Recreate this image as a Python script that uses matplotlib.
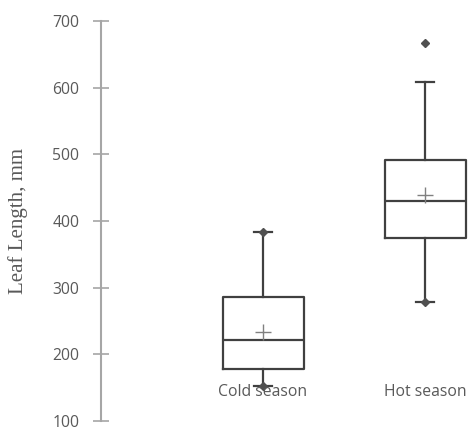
import numpy as np
import matplotlib
matplotlib.use('Agg')
import matplotlib.pyplot as plt

categories = ['Cold season', 'Hot season']
q1 = [178, 374]
medians = [221, 430]
q3 = [286, 491]
whisker_low = [153, 279]
whisker_high = [383, 608]
means = [233, 439]
outliers = [[], [667]]
# points drawn on the whisker ends (min / max data points)
end_points = [[153, 383], [279]]

y_ticks = [100, 200, 300, 400, 500, 600, 700]

box_color = '#404040'
axis_color = '#a6a6a6'
text_color = '#595959'

fig = plt.figure(figsize=(4.68, 4.28), dpi=100)
ax = fig.add_axes([101 / 468, 7 / 428, 367 / 468, 400 / 428])

positions = np.arange(1, len(categories) + 1)
stats = []
for i in range(len(categories)):
    stats.append(dict(q1=q1[i], med=medians[i], q3=q3[i],
                      whislo=whisker_low[i], whishi=whisker_high[i],
                      mean=means[i], fliers=np.array(outliers[i])))

lw = 1.6
ax.bxp(stats, positions=positions, widths=0.5, showmeans=True, showfliers=True,
       capwidths=0.11,
       boxprops=dict(color=box_color, linewidth=lw),
       medianprops=dict(color=box_color, linewidth=lw),
       whiskerprops=dict(color=box_color, linewidth=lw),
       capprops=dict(color=box_color, linewidth=lw),
       meanprops=dict(marker='+', markeredgecolor='#808080', markersize=12,
                      markeredgewidth=1.0),
       flierprops=dict(marker='D', markerfacecolor='#505050',
                       markeredgecolor='#505050', markersize=4.5))

for pos, pts in zip(positions, end_points):
    ax.plot([pos] * len(pts), pts, linestyle='none', marker='D',
            color='#505050', markersize=4.5, zorder=3)

for pos, name in zip(positions, categories):
    ax.text(pos, 143, name, ha='center', va='center', fontsize=11.3,
            color=text_color, family='Open Sans')

ax.set_xlim(0, 2.265)
ax.set_ylim(100, 700)
ax.set_yticks(y_ticks)
ax.set_xticks([])
for s in ['top', 'right', 'bottom']:
    ax.spines[s].set_visible(False)
ax.spines['left'].set_color(axis_color)
ax.spines['left'].set_linewidth(1.5)
ax.tick_params(axis='y', direction='inout', length=11, width=1.2,
               color=axis_color, labelcolor=text_color, labelsize=11.3, pad=10)
for lab in ax.get_yticklabels():
    lab.set_family('Open Sans')

ax.set_ylabel('Leaf Length, mm', family='Liberation Serif', fontsize=15,
              color=text_color)
ax.yaxis.set_label_coords(-0.2, 0.5)

plt.savefig('out.png', dpi=100)
